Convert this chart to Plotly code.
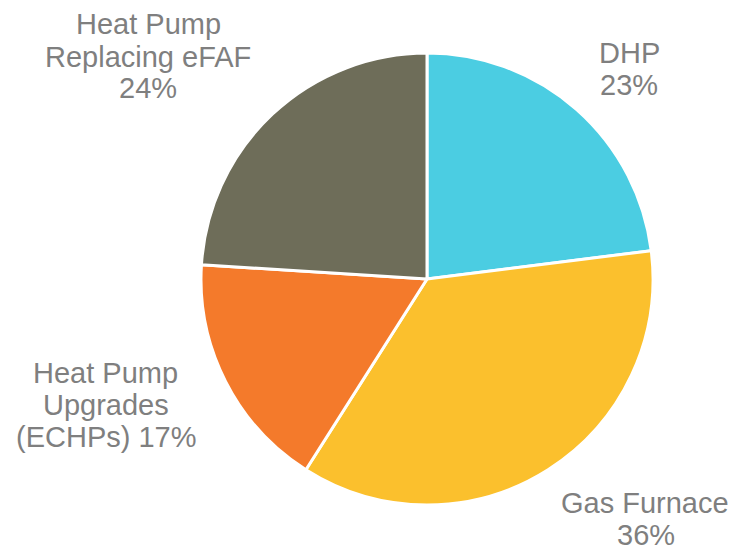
import plotly.graph_objects as go

labels = ["DHP", "Gas Furnace", "Heat Pump Upgrades (ECHPs)", "Heat Pump Replacing eFAF"]
values = [23, 36, 17, 24]
colors = ["#4BCDE2", "#FBC02D", "#F47A2B", "#6E6D59"]

# label lines and their centres (reference pixel coords)
label_lines = [
    ("DHP", 629, 53), ("23%", 629, 85),
    ("Gas Furnace", 645, 503), ("36%", 646, 535),
    ("Heat Pump", 105, 373), ("Upgrades", 106, 405), ("(ECHPs) 17%", 106, 437),
    ("Heat Pump", 148, 24), ("Replacing eFAF", 148, 57), ("24%", 148, 88),
]

OFF = 8  # page body margin
W, H = 736 - OFF, 548 - OFF
cx, cy, r = 427 - OFF, 279 - OFF, 226

fig = go.Figure(go.Pie(
    labels=labels, values=values, sort=False, direction="clockwise", rotation=0,
    marker=dict(colors=colors, line=dict(color="white", width=3)),
    textinfo="none", hoverinfo="label+percent",
    domain=dict(x=[(cx - r) / W, (cx + r) / W], y=[1 - (cy + r) / H, 1 - (cy - r) / H]),
))

for t, x, y in label_lines:
    fig.add_annotation(x=(x - OFF) / W, y=1 - (y - OFF) / H, xref="paper", yref="paper", text=t,
                       showarrow=False, xanchor="center", yanchor="middle", align="center",
                       font=dict(family="Liberation Sans, Arial, sans-serif", size=29, color="#7F7F7F"))

fig.update_layout(width=W, height=H, margin=dict(l=0, r=0, t=0, b=0),
                  showlegend=False, paper_bgcolor="white", plot_bgcolor="white")
fig.write_html("out.html")
